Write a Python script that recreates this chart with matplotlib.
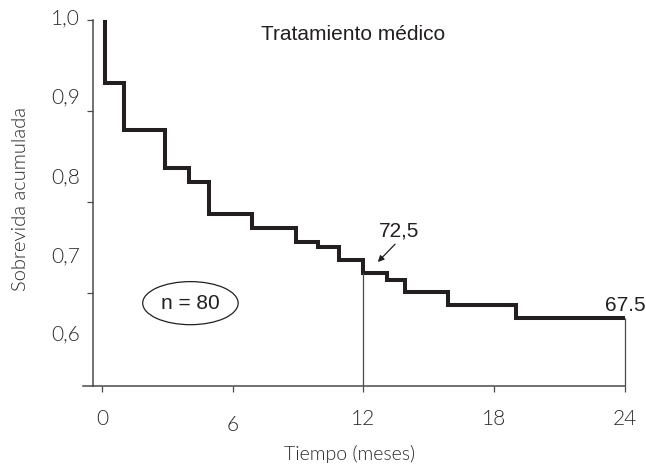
import matplotlib.pyplot as plt
from matplotlib.patches import Ellipse

# curva de Kaplan-Meier, tratamiento médico
event_t = [0.15, 1.0, 2.9, 4.0, 4.9, 6.9, 8.9, 9.9, 10.9, 12.0, 13.1, 13.9, 15.9, 19.0]
surv = [0.931, 0.879, 0.837, 0.822, 0.787, 0.771, 0.756, 0.751, 0.736, 0.722,
        0.714, 0.701, 0.687, 0.673]
x_ticks = [0, 6, 12, 18, 24]
y_ticks = [0.7, 0.8, 0.9, 1.0]
y_labels = ["1,0", "0,9", "0,8", "0,7", "0,6"]
y_label_pos = [1.002, 0.915, 0.827, 0.741, 0.655]  # etiquetas desplazadas como en el original

TICK_FONT = "Lato"
TICK_W = 300
TEXT_FONT = "Liberation Sans"
GRAY = "#4a4a4a"
INK = "#231f20"
LAB = "#2b2b2b"

fig = plt.figure(figsize=(6.46, 4.67), dpi=100)
ax = fig.add_axes([93 / 646, 1 - 386 / 467, 532 / 646, 366 / 467])

xs = [event_t[0]] + event_t + [24]
ys = [1.0] + surv + [surv[-1]]
ax.step(xs, ys, where="post", color=INK, lw=2.9, solid_joinstyle="miter")

# lineas verticales finas en 12 y 24 meses
ax.vlines([12], 0.598, surv[event_t.index(12.0)], color=GRAY, lw=0.9)
ax.vlines([24], 0.598, surv[-1], color=GRAY, lw=0.9, clip_on=False)

ax.set_xlim(-0.41, 24)
ax.set_ylim(0.598, 1.0)
for s in ["top", "right"]:
    ax.spines[s].set_visible(False)
for s in ["left", "bottom"]:
    ax.spines[s].set_color(GRAY)
    ax.spines[s].set_linewidth(1.1)
# prolongacion del eje x a la izquierda
ax.plot([-0.87, -0.41], [0.598, 0.598], color=GRAY, lw=1.1, clip_on=False)

ax.set_xticks(x_ticks)
ax.set_xticklabels([str(t) for t in x_ticks])
ax.set_yticks(y_ticks)
ax.set_yticklabels([])
ax.tick_params(axis="both", direction="out", length=4.3, width=0.9, color=GRAY)
ax.tick_params(axis="x", pad=12, labelsize=15, labelcolor=LAB)
for lab in ax.get_xticklabels():
    lab.set_fontfamily(TICK_FONT)
    lab.set_fontweight(TICK_W)
ax.get_xticklabels()[1].set_y(-0.017)

for lab, pos in zip(y_labels, y_label_pos):
    ax.text(-0.024, pos, lab, transform=ax.get_yaxis_transform(), ha="right", va="center",
            fontsize=15, family=TICK_FONT, weight=TICK_W, color=LAB)

ax.set_ylabel("Sobrevida acumulada", fontsize=14.5, family=TICK_FONT, weight=TICK_W,
              color=LAB)
ax.yaxis.set_label_coords(-0.12, 0.51)
ax.set_xlabel("Tiempo (meses)", fontsize=14, family=TICK_FONT, weight=TICK_W,
              color=LAB)
ax.xaxis.set_label_coords(0.483, -0.162)

ax.text(0.489, 0.96, "Tratamiento médico", transform=ax.transAxes, ha="center",
        va="center", fontsize=15, family=TEXT_FONT, color=INK)
ax.text(13.63, 0.768, "72,5", ha="center", va="center", fontsize=15, family=TEXT_FONT,
        color=INK)
ax.annotate("", xy=(12.57, 0.732), xytext=(13.54, 0.756),
            arrowprops=dict(arrowstyle="-|>", color=INK, lw=0.9, mutation_scale=9))
ax.text(24.0, 0.686, "67.5", ha="center", va="center", fontsize=15, family=TEXT_FONT,
        color=INK, clip_on=False)

ax.add_patch(Ellipse((4.06, 0.689), 4.38, 0.0473, fill=False, edgecolor=INK, lw=0.9))
ax.text(4.06, 0.689, "n = 80", ha="center", va="center", fontsize=15, family=TEXT_FONT,
        color=INK)

fig.savefig("out.png", dpi=100)
